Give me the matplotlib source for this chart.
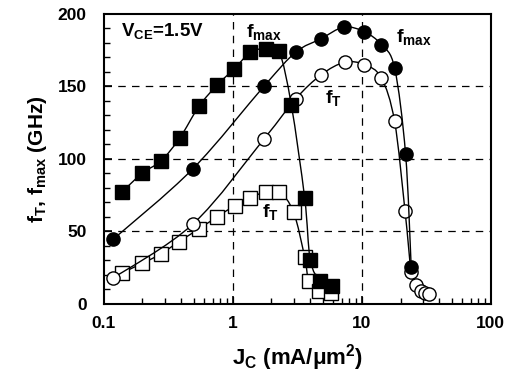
import numpy as np
import matplotlib
matplotlib.use("Agg")
import matplotlib.pyplot as plt
from matplotlib.path import Path
from matplotlib.patches import PathPatch
from matplotlib.ticker import FixedLocator, LogLocator, NullFormatter

plt.rcParams['font.family'] = ['Liberation Sans', 'DejaVu Sans']
plt.rcParams['font.weight'] = 'bold'
plt.rcParams['mathtext.fontset'] = 'custom'
plt.rcParams['mathtext.rm'] = 'Liberation Sans:bold'
plt.rcParams['mathtext.bf'] = 'Liberation Sans:bold'
plt.rcParams['mathtext.it'] = 'Liberation Sans:bold'

# device 1 (squares)
jc_sq = [0.14, 0.20, 0.279, 0.39, 0.548, 0.764, 1.03, 1.375, 1.80, 2.29,
         2.85, 3.62, 4.00, 4.79, 5.89]
fmax_sq = [77.4, 90.1, 98.6, 114.3, 136, 151, 161.9, 173.3, 175.9, 174,
           137.2, 72.9, 30.3, 15.9, 12.4]

jc_sq_t = [0.14, 0.20, 0.279, 0.385, 0.545, 0.764, 1.04, 1.375, 1.80, 2.30,
           2.97, 3.62, 3.90, 4.64, 5.75]
ft_sq = [21.6, 28, 34.5, 43, 51.5, 60.2, 67.6, 72.9, 77.4, 77.4,
         63.2, 32.2, 16.1, 9.0, 7.8]

# device 2 (circles)
jc_ci = [0.119, 0.49, 1.75, 3.08, 4.81, 7.28, 10.5, 14.2, 18.0, 21.9, 24.2]
fmax_ci = [44.6, 92.9, 149.9, 173.3, 182.5, 190.6, 187.4, 178.6, 162.5, 103.2, 25.7]

jc_ci_t = [0.118, 0.495, 1.75, 3.08, 4.87, 7.38, 10.5, 14.2, 18.0, 21.7,
           24.2, 26.4, 28.9, 31.0, 33.5]
ft_ci = [17.7, 55.2, 113.6, 141.2, 157.9, 166.4, 164.8, 155.7, 125.7, 63.7,
         22.3, 13.1, 9.0, 7.4, 6.7]


def smooth_line(ax, x, y, **kw):
    # catmull-rom -> bezier, done in log-x space so it looks smooth on the log axis
    pts = np.column_stack([np.log10(x), np.asarray(y, float)])
    verts = [pts[0]]
    codes = [Path.MOVETO]
    n = len(pts)
    for i in range(n - 1):
        p0 = pts[i - 1] if i > 0 else pts[i]
        p1, p2 = pts[i], pts[i + 1]
        p3 = pts[i + 2] if i + 2 < n else p2
        verts += [p1 + (p2 - p0) / 6, p2 - (p3 - p1) / 6, p2]
        codes += [Path.CURVE4] * 3
    verts = np.array(verts)
    verts[:, 0] = 10 ** verts[:, 0]
    ax.add_patch(PathPatch(Path(verts, codes), fill=False, **kw))


fig = plt.figure(figsize=(5.16, 3.74), dpi=100)
ax = fig.add_axes([0.2006, 0.1872, 0.7504, 0.7767])
ax.set_xscale('log')
ax.set_xlim(0.1, 100)
ax.set_ylim(0, 200)

ms = 9.5
series = [(jc_sq_t, ft_sq, 's', 'white'), (jc_sq, fmax_sq, 's', 'black'),
          (jc_ci_t, ft_ci, 'o', 'white'), (jc_ci, fmax_ci, 'o', 'black')]
for k, (x, y, m, fc) in enumerate(series):
    z = 3 + k % 2
    smooth_line(ax, x, y, edgecolor='black', lw=1, zorder=z)
    ax.plot(x, y, ls='none', marker=m, mfc=fc, mec='black', ms=ms, mew=1, zorder=z)

for xv in [1, 10]:
    ax.axvline(xv, color='black', ls=(0, (6, 5)), lw=0.9, zorder=1)
for yv in [50, 100, 150]:
    ax.axhline(yv, color='black', ls=(0, (6, 5)), lw=0.9, zorder=1)

ax.set_xticks([0.1, 1, 10, 100])
ax.set_xticklabels(['0.1', '1', '10', '100'])
ax.xaxis.set_minor_locator(LogLocator(base=10, subs=np.arange(2, 10)))
ax.xaxis.set_minor_formatter(NullFormatter())
ax.set_yticks([0, 50, 100, 150, 200])
ax.yaxis.set_minor_locator(FixedLocator(np.arange(0, 201, 10)))

ax.tick_params(which='both', direction='in', top=False, right=False, labelsize=12.5)
ax.tick_params(which='major', length=6, width=1.2)
ax.tick_params(which='minor', length=4, width=1)
ax.tick_params(axis='y', pad=12)
ax.tick_params(axis='x', pad=9)
for s in ax.spines.values():
    s.set_linewidth(1.5)

ax.set_xlabel(r'J$_\mathbf{C}$ (mA/μm$^\mathbf{2}$)', fontsize=16, fontweight='bold', labelpad=8)
ax.set_ylabel(r'f$_\mathbf{T}$, f$_\mathbf{max}$ (GHz)', fontsize=15, fontweight='bold', labelpad=6)

ax.text(0.137, 188, r'V$_\mathbf{CE}$=1.5V', fontsize=13.5, fontweight='bold', va='center')
ax.text(1.28, 187, r'f$_\mathbf{max}$', fontsize=14, fontweight='bold', va='center')
ax.text(18.6, 184, r'f$_\mathbf{max}$', fontsize=14, fontweight='bold', va='center')
ax.text(5.2, 142, r'f$_\mathbf{T}$', fontsize=14, fontweight='bold', va='center')
ax.text(1.7, 63, r'f$_\mathbf{T}$', fontsize=14, fontweight='bold', va='center')

fig.savefig('out.png', dpi=100)
